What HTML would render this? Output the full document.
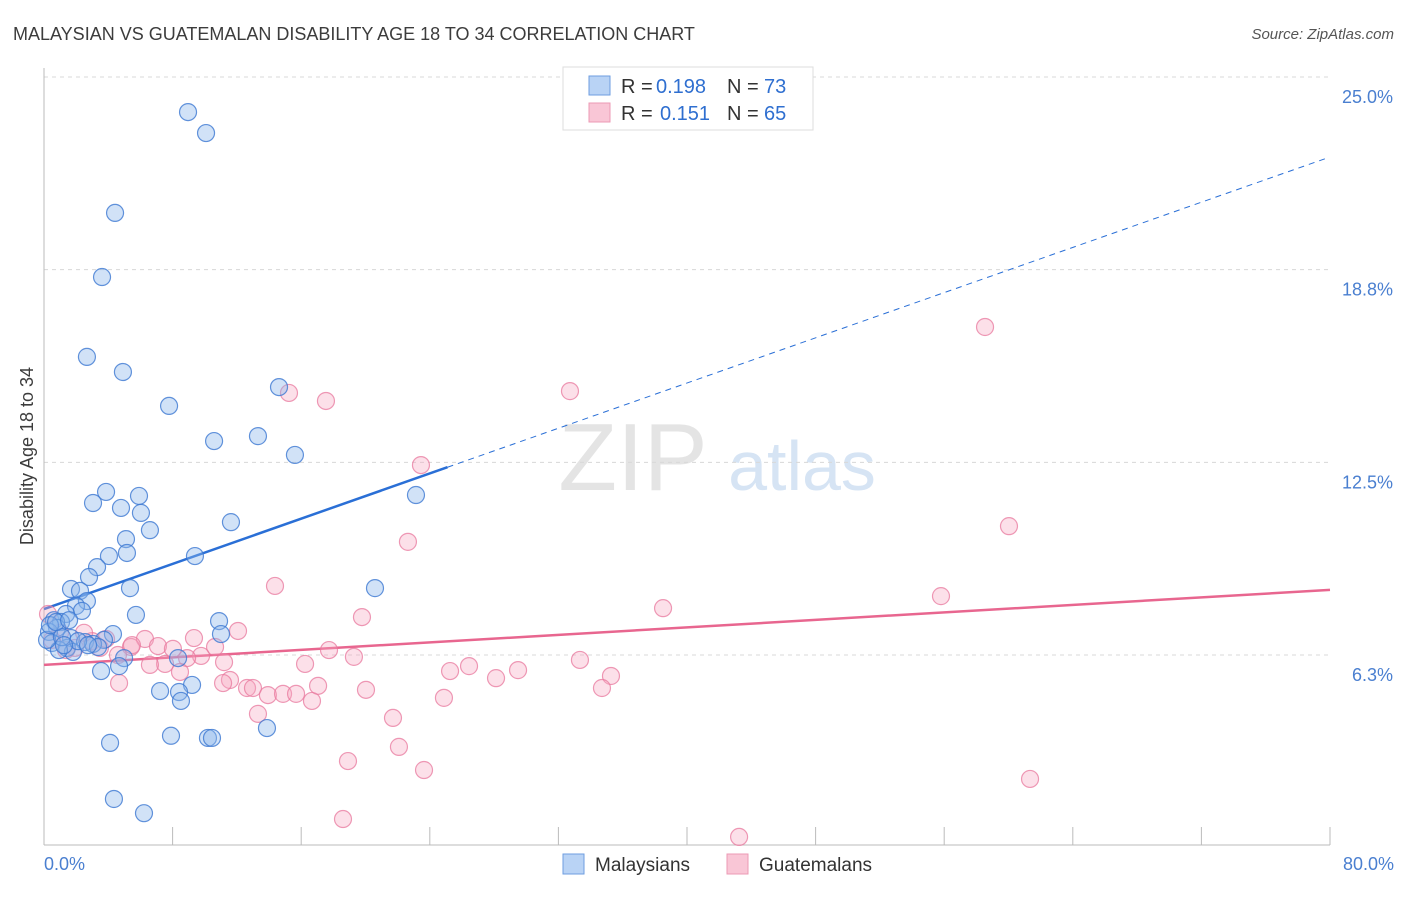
<!DOCTYPE html>
<html><head><meta charset="utf-8"><style>
body{margin:0;background:#fff;font-family:"Liberation Sans",sans-serif}
svg text{font-family:"Liberation Sans",sans-serif}
</style></head><body>
<svg id="chart" width="1406" height="892" viewBox="0 0 1406 892" xmlns="http://www.w3.org/2000/svg">
<text x="13" y="40" font-size="18" fill="#3c3c3c">MALAYSIAN VS GUATEMALAN DISABILITY AGE 18 TO 34 CORRELATION CHART</text>
<text x="1394" y="39" font-size="15" fill="#555" font-style="italic" text-anchor="end">Source: ZipAtlas.com</text>
<g>
<text x="633" y="490" font-size="96" fill="#e4e4e4" font-family="Liberation Serif" text-anchor="middle">ZIP</text>
<text x="802" y="490" font-size="70" fill="#d6e4f4" text-anchor="middle">atlas</text>
</g>
<g id="grid"></g>
<g id="axes"></g>
<g id="trend"></g>
<g id="points"></g>
<text transform="translate(33,456) rotate(-90)" font-size="18" fill="#3c3c3c" text-anchor="middle">Disability Age 18 to 34</text>
<text x="44" y="870" font-size="18" fill="#4a7fd0">0.0%</text>
<text x="1394" y="870" font-size="18" fill="#4a7fd0" text-anchor="end">80.0%</text>
<g>
<rect x="563" y="67" width="250" height="63" fill="#fff" stroke="#ddd"/>
<rect x="589" y="76" width="21" height="19" fill="#b9d3f5" stroke="#6e9ee0"/>
<rect x="589" y="103" width="21" height="19" fill="#f9c6d6" stroke="#ec9ab4"/>
<text x="621" y="93" font-size="20" fill="#333">R =</text>
<text x="656" y="93" font-size="20" fill="#2f6fd0">0.198</text>
<text x="727" y="93" font-size="20" fill="#333">N =</text>
<text x="764" y="93" font-size="20" fill="#2f6fd0">73</text>
<text x="621" y="120" font-size="20" fill="#333">R =</text>
<text x="660" y="120" font-size="20" fill="#2f6fd0">0.151</text>
<text x="727" y="120" font-size="20" fill="#333">N =</text>
<text x="764" y="120" font-size="20" fill="#2f6fd0">65</text>
</g>
<g>
<rect x="563" y="854" width="21" height="20" fill="#b9d3f5" stroke="#6e9ee0"/>
<text x="595" y="871" font-size="19" fill="#333">Malaysians</text>
<rect x="727" y="854" width="21" height="20" fill="#f9c6d6" stroke="#ec9ab4"/>
<text x="759" y="871" font-size="19" fill="#333">Guatemalans</text>
</g>
</svg>
<script>
const yTicks=[6.25,12.5,18.75,25];
const yTickLabels=["6.3%","12.5%","18.8%","25.0%"];
const xTicks=[0,8,16,24,32,40,48,56,64,72,80];
const blueX=[8.96,10.08,4.42,3.61,2.67,4.91,7.78,14.62,10.58,13.31,15.61,3.86,5.91,3.05,4.79,6.03,11.63,6.59,23.14,5.10,5.16,4.04,9.39,3.30,2.80,5.35,1.68,2.24,20.59,2.67,1.99,2.36,5.72,1.37,10.89,0.62,1.06,0.81,11.01,4.29,0.31,3.73,1.68,2.55,3.05,3.36,0.50,1.43,1.80,0.93,4.98,8.34,4.67,3.55,9.21,7.22,8.40,8.52,4.11,7.90,10.20,10.45,13.87,4.35,6.22,0.19,0.37,1.12,2.12,1.24,2.74,0.75,1.56];
const blueY=[23.86,23.18,20.59,18.51,15.92,15.43,14.33,14.94,13.19,13.35,12.74,11.54,11.41,11.18,11.02,10.86,10.56,10.30,11.44,10.01,9.56,9.46,9.46,9.10,8.78,8.42,8.39,8.33,8.42,8.00,7.84,7.68,7.55,7.58,7.35,7.38,7.32,7.13,6.93,6.93,7.00,6.74,6.80,6.67,6.61,6.51,6.64,6.48,6.35,6.41,6.15,6.15,5.89,5.73,5.28,5.08,5.05,4.76,3.40,3.63,3.56,3.56,3.88,1.58,1.12,6.74,7.22,6.83,6.70,6.57,6.57,7.32,7.38];
const pinkX=[58.54,32.72,15.24,17.54,23.45,60.03,22.64,14.37,19.78,38.51,55.80,12.07,9.33,6.28,7.09,8.02,10.64,17.73,19.28,5.41,4.60,9.77,8.90,7.53,6.59,16.24,11.20,26.44,25.26,29.49,33.34,35.27,28.12,8.46,4.67,11.57,11.14,12.63,13.00,13.93,14.87,15.68,16.67,17.05,20.03,24.88,34.71,13.31,21.71,22.08,18.91,23.64,61.34,18.60,43.24,0.25,0.50,1.00,2.99,3.48,3.86,2.49,1.93,5.47,1.37];
const pinkY=[16.89,14.81,14.75,14.49,12.41,10.43,9.92,8.49,7.48,7.77,8.16,7.03,6.80,6.77,6.54,6.45,6.51,6.41,6.19,6.51,6.25,6.22,6.15,5.96,5.93,5.96,6.02,5.89,5.73,5.76,6.09,5.57,5.50,5.70,5.34,5.44,5.34,5.18,5.18,4.95,4.99,4.99,4.76,5.25,5.12,4.86,5.18,4.34,4.21,3.27,2.81,2.52,2.23,0.93,0.35,7.58,6.74,6.97,6.70,6.48,6.77,6.97,6.48,6.57,6.41];
const blueTrend=[7.74,0.1833];
const pinkTrend=[5.93,0.0304];
const blueSolidEnd=25.1;

const NS="http://www.w3.org/2000/svg";
const sx=v=>44+v*16.075;
const sy=v=>847.7-v*30.83;
function mk(tag,attrs,parent){const e=document.createElementNS(NS,tag);for(const k in attrs)e.setAttribute(k,attrs[k]);parent.appendChild(e);return e;}
const grid=document.getElementById('grid'),axes=document.getElementById('axes'),trend=document.getElementById('trend'),pts=document.getElementById('points');
yTicks.forEach((t,i)=>{
  const l=mk('line',{x1:44,x2:1330,y1:sy(t),y2:sy(t),stroke:'#d8d8d8','stroke-dasharray':'4 4'},grid);
  
  
  const tx=mk('text',{x:1393,y:sy(t)+26,'font-size':18,fill:'#4a7fd0','text-anchor':'end'},grid);
  tx.textContent=yTickLabels[i];
  
  
});
const ax=mk('line',{x1:44,x2:1330,y1:845,y2:845,stroke:'#bbb'},axes);


const ay=mk('line',{x1:44,x2:44,y1:68,y2:845,stroke:'#bbb'},axes);


xTicks.forEach(t=>{
  const l=mk('line',{x1:sx(t),x2:sx(t),y1:827,y2:845,stroke:'#bbb'},axes);
  
  
});
function line(tr,x0,x1,color,dash,name){
  const a={x1:sx(x0),x2:sx(x1),y1:sy(tr[0]+tr[1]*x0),y2:sy(tr[0]+tr[1]*x1),stroke:color,'stroke-width':dash?1:2.5};
  if(dash)a['stroke-dasharray']='6 5';
  const l=mk('line',a,trend);
  
  
}
function dots(xs,ys,fill,stroke,name){
  xs.forEach((x,i)=>{
    const c=mk('circle',{cx:sx(x),cy:sy(ys[i]),r:8.5,fill:fill,stroke:stroke,'stroke-width':1.2},pts);
    
    
  });
}
dots(pinkX,pinkY,'rgba(246,165,192,0.35)','rgba(232,120,158,0.75)','guatemalan-point');
dots(blueX,blueY,'rgba(140,182,236,0.4)','rgba(60,120,210,0.8)','malaysian-point');
line(blueTrend,0,blueSolidEnd,'#2a6fd6',false,'malaysian-trendline');
line(blueTrend,blueSolidEnd,79.8,'#2a6fd6',true,'malaysian-trendline-extension');
line(pinkTrend,0,80,'#e8668f',false,'guatemalan-trendline');
</script>
</body></html>
